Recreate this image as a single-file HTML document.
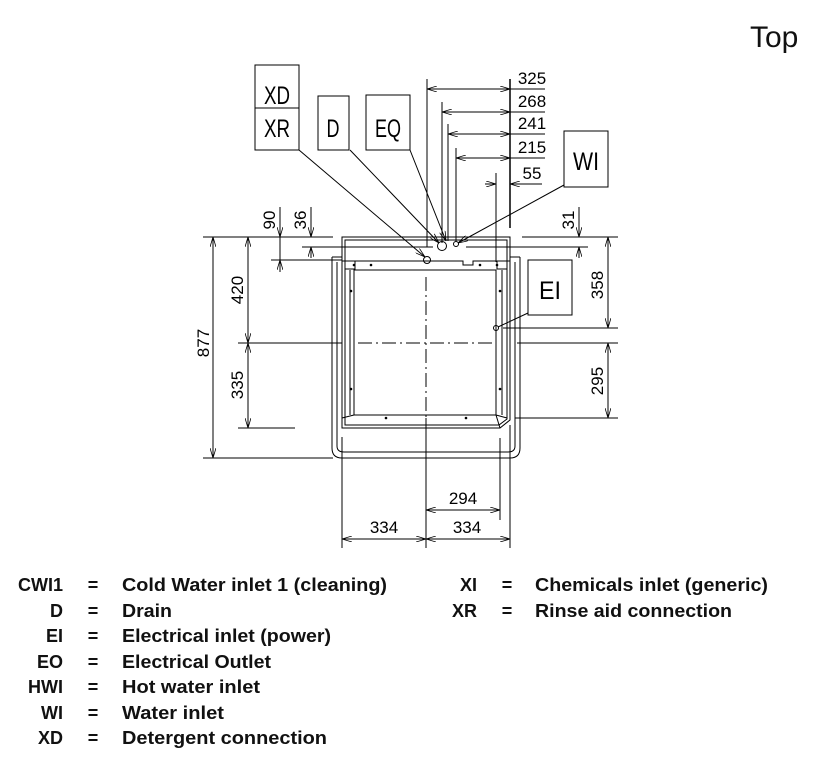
<!DOCTYPE html>
<html><head><meta charset="utf-8"><style>
html,body{margin:0;padding:0;background:#fff;}
svg{display:block;}
.d{font-family:"Liberation Sans Narrow","Liberation Sans",sans-serif;font-size:17px;fill:#000;}
.b{font-family:"Liberation Sans Narrow","Liberation Sans",sans-serif;font-size:25px;fill:#000;}
.l{font-family:"Liberation Sans",sans-serif;font-size:18px;font-weight:bold;fill:#111;}
</style></head><body>
<svg width="818" height="764" viewBox="0 0 818 764" xmlns="http://www.w3.org/2000/svg">
<defs>
<marker id="a" viewBox="0 0 10 6" refX="10" refY="3" markerWidth="10" markerHeight="6" orient="auto-start-reverse" markerUnits="userSpaceOnUse">
<path d="M0,0 L10,3 L0,6" fill="none" stroke="#000" stroke-width="0.8"/>
</marker>
</defs>
<text x="750" y="47" font-family="Liberation Sans,sans-serif" font-size="30" fill="#111">Top</text>

<g stroke="#000" stroke-width="1" fill="none">
<rect x="255" y="65" width="44" height="85"/><line x1="255" y1="108" x2="299" y2="108"/>
<rect x="318" y="96" width="31" height="54"/>
<rect x="366" y="95" width="44" height="55"/>
<rect x="564" y="131" width="44" height="56"/>
<rect x="528" y="260" width="44" height="55"/>
<line x1="299" y1="150" x2="425" y2="257" marker-end="url(#a)"/>
<line x1="350" y1="150" x2="439" y2="243" marker-end="url(#a)"/>
<line x1="410" y1="150" x2="446" y2="241" marker-end="url(#a)"/>
<line x1="564" y1="185" x2="458" y2="243" marker-end="url(#a)"/>
<line x1="528" y1="313" x2="498" y2="327"/>
<line x1="427" y1="79" x2="427" y2="247"/>
<line x1="442" y1="102" x2="442" y2="243"/>
<line x1="448" y1="124" x2="448" y2="241"/>
<line x1="456" y1="148" x2="456" y2="241"/>
<line x1="496" y1="173" x2="496" y2="262"/>
<line x1="510" y1="79" x2="510" y2="228" stroke-width="1.5"/>
<line x1="427" y1="89" x2="510" y2="89" marker-start="url(#a)" marker-end="url(#a)"/><line x1="510" y1="89" x2="545" y2="89"/>
<line x1="442" y1="112" x2="510" y2="112" marker-start="url(#a)" marker-end="url(#a)"/><line x1="510" y1="112" x2="545" y2="112"/>
<line x1="448" y1="134" x2="510" y2="134" marker-start="url(#a)" marker-end="url(#a)"/><line x1="510" y1="134" x2="545" y2="134"/>
<line x1="456" y1="158" x2="510" y2="158" marker-start="url(#a)" marker-end="url(#a)"/><line x1="510" y1="158" x2="545" y2="158"/>
<line x1="485" y1="184" x2="496" y2="184" marker-end="url(#a)"/><line x1="510" y1="184" x2="542" y2="184"/><line x1="520" y1="184" x2="510" y2="184" marker-end="url(#a)"/>

<path d="M332,257 L332,448 Q332,458 342,458 L510,458 Q520,458 520,448 L520,257"/>
<path d="M337,262 L337,446 Q337,452 344,452 L508,452 Q515,452 515,446 L515,262"/>
<line x1="332" y1="257" x2="342" y2="257"/><line x1="510" y1="257" x2="520" y2="257"/>
<path d="M342,237 L510,237 L510,420 L500,428 L342,428 Z"/>
<path d="M345,240 L507,240 L507,419 L499,425 L345,425 Z"/>
<path d="M342,261 L463,261 L463,265 L473,265 L473,261 L510,261"/>
<rect x="354" y="270" width="142" height="145"/>
<line x1="342" y1="418" x2="354" y2="415"/><line x1="496" y1="415" x2="500" y2="428"/><line x1="496" y1="415" x2="507" y2="418"/>
<rect x="345" y="261" width="10" height="8"/><rect x="497" y="261" width="10" height="8"/>
<line x1="350" y1="270" x2="350" y2="415"/><line x1="502" y1="270" x2="502" y2="415"/>
<circle cx="427" cy="260" r="3.5"/><circle cx="442" cy="246" r="4.5"/><circle cx="456" cy="244" r="2.5"/><circle cx="496" cy="328" r="2.5"/>
<line x1="426" y1="277" x2="426" y2="548" stroke-dasharray="14,4,2,4"/>
<line x1="358" y1="343" x2="494" y2="343" stroke-dasharray="14,4,2,4"/>
<line x1="426" y1="418" x2="426" y2="548"/>

<line x1="203" y1="237" x2="333" y2="237"/>
<line x1="203" y1="458" x2="333" y2="458"/>
<line x1="238" y1="343" x2="342" y2="343"/>
<line x1="238" y1="428" x2="295" y2="428"/>
<line x1="271" y1="260" x2="342" y2="260"/>
<line x1="302" y1="247" x2="433" y2="247"/>
<line x1="213" y1="237" x2="213" y2="458" marker-start="url(#a)" marker-end="url(#a)"/>
<line x1="248" y1="237" x2="248" y2="343" marker-start="url(#a)" marker-end="url(#a)"/>
<line x1="248" y1="343" x2="248" y2="428" marker-start="url(#a)" marker-end="url(#a)"/>
<line x1="280" y1="207" x2="280" y2="237" marker-end="url(#a)"/><line x1="280" y1="272" x2="280" y2="260" marker-end="url(#a)"/><line x1="280" y1="237" x2="280" y2="260"/>
<line x1="311" y1="207" x2="311" y2="237" marker-end="url(#a)"/><line x1="311" y1="258" x2="311" y2="247" marker-end="url(#a)"/>

<line x1="522" y1="237" x2="618" y2="237"/>
<line x1="466" y1="247" x2="588" y2="247"/>
<line x1="503" y1="328" x2="618" y2="328"/>
<line x1="517" y1="343" x2="618" y2="343"/>
<line x1="515" y1="418" x2="618" y2="418"/>
<line x1="579" y1="207" x2="579" y2="237" marker-end="url(#a)"/><line x1="579" y1="258" x2="579" y2="247" marker-end="url(#a)"/>
<line x1="608" y1="237" x2="608" y2="328" marker-start="url(#a)" marker-end="url(#a)"/>
<line x1="608" y1="343" x2="608" y2="418" marker-start="url(#a)" marker-end="url(#a)"/>

<line x1="342" y1="437" x2="342" y2="548"/>
<line x1="510" y1="425" x2="510" y2="548"/>
<line x1="500" y1="438" x2="500" y2="520"/>
<line x1="426" y1="510" x2="500" y2="510" marker-start="url(#a)" marker-end="url(#a)"/>
<line x1="342" y1="539" x2="426" y2="539" marker-start="url(#a)" marker-end="url(#a)"/>
<line x1="426" y1="539" x2="510" y2="539" marker-start="url(#a)" marker-end="url(#a)"/>
</g>
<g fill="#000">
<circle cx="354" cy="265" r="1.3"/><circle cx="371" cy="265" r="1.3"/><circle cx="480" cy="265" r="1.3"/><circle cx="497" cy="265" r="1.3"/>
<circle cx="351" cy="291" r="1.3"/><circle cx="500" cy="291" r="1.3"/><circle cx="351" cy="389" r="1.3"/><circle cx="500" cy="389" r="1.3"/>
<circle cx="386" cy="418" r="1.3"/><circle cx="466" cy="418" r="1.3"/>
</g>

<g class="b" text-anchor="middle">
<text x="277" y="104" textLength="26" lengthAdjust="spacingAndGlyphs">XD</text>
<text x="277" y="137" textLength="26" lengthAdjust="spacingAndGlyphs">XR</text>
<text x="333" y="137" textLength="13" lengthAdjust="spacingAndGlyphs">D</text>
<text x="388" y="137" textLength="26" lengthAdjust="spacingAndGlyphs">EQ</text>
<text x="586" y="170" textLength="26" lengthAdjust="spacingAndGlyphs">WI</text>
<text x="550" y="299" textLength="22" lengthAdjust="spacingAndGlyphs">EI</text>
</g>
<g class="d" text-anchor="middle">
<text x="532" y="84">325</text><text x="532" y="107">268</text><text x="532" y="129">241</text><text x="532" y="153">215</text><text x="532" y="179">55</text>
<text x="463" y="504">294</text><text x="384" y="533">334</text><text x="467" y="533">334</text>
<text transform="translate(209,343) rotate(-90)">877</text>
<text transform="translate(243,290) rotate(-90)">420</text>
<text transform="translate(243,385) rotate(-90)">335</text>
<text transform="translate(275,220) rotate(-90)">90</text>
<text transform="translate(306,220) rotate(-90)">36</text>
<text transform="translate(574,220) rotate(-90)">31</text>
<text transform="translate(603,285) rotate(-90)">358</text>
<text transform="translate(603,381) rotate(-90)">295</text>
</g>

<g class="l">
<g text-anchor="end">
<text x="63" y="591">CWI1</text><text x="63" y="617">D</text><text x="63" y="642">EI</text><text x="63" y="668">EO</text><text x="63" y="693">HWI</text><text x="63" y="719">WI</text><text x="63" y="744">XD</text>
<text x="477" y="591">XI</text><text x="477" y="617">XR</text>
</g>
<g text-anchor="middle">
<text x="93" y="591">=</text><text x="93" y="617">=</text><text x="93" y="642">=</text><text x="93" y="668">=</text><text x="93" y="693">=</text><text x="93" y="719">=</text><text x="93" y="744">=</text>
<text x="507" y="591">=</text><text x="507" y="617">=</text>
</g>
<text x="122" y="591" textLength="265" lengthAdjust="spacingAndGlyphs">Cold Water inlet 1 (cleaning)</text>
<text x="122" y="617" textLength="50" lengthAdjust="spacingAndGlyphs">Drain</text>
<text x="122" y="642" textLength="209" lengthAdjust="spacingAndGlyphs">Electrical inlet (power)</text>
<text x="122" y="668" textLength="149" lengthAdjust="spacingAndGlyphs">Electrical Outlet</text>
<text x="122" y="693" textLength="138" lengthAdjust="spacingAndGlyphs">Hot water inlet</text>
<text x="122" y="719" textLength="102" lengthAdjust="spacingAndGlyphs">Water inlet</text>
<text x="122" y="744" textLength="205" lengthAdjust="spacingAndGlyphs">Detergent connection</text>
<text x="535" y="591" textLength="233" lengthAdjust="spacingAndGlyphs">Chemicals inlet (generic)</text>
<text x="535" y="617" textLength="197" lengthAdjust="spacingAndGlyphs">Rinse aid connection</text>
</g>
</svg>
</body></html>
